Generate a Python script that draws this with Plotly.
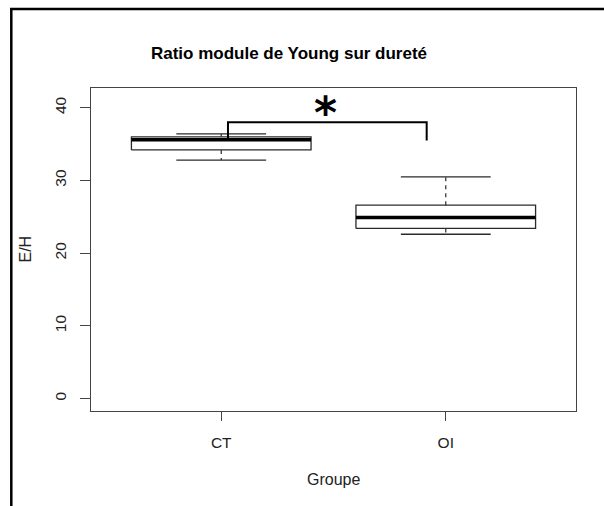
import plotly.graph_objects as go

# ---- data ----
groups = ["CT", "OI"]
lower_whisker = [32.8, 22.6]
q1 = [34.2, 23.4]
median = [35.6, 24.9]
q3 = [36.0, 26.6]
upper_whisker = [36.4, 30.5]

y_ticks = [0, 10, 20, 30, 40]

# significance bracket (data units)
sig_left_x = 1.03
sig_right_x = 1.915
sig_top_y = 38.0
sig_left_bottom = 35.5
sig_right_bottom = 35.5
sig_label = "*"
sig_label_x = 1.465

title_text = "Ratio module de Young sur dureté"
x_title = "Groupe"
y_title = "E/H"

FONT = "Liberation Sans, Arial, sans-serif"
HALF_BOX = 0.4
HALF_CAP = 0.2
LINE_COL = "#2a2a2a"

fig = go.Figure()

for i, g in enumerate(groups):
    xc = i + 1
    # box
    fig.add_trace(go.Scatter(
        x=[xc - HALF_BOX, xc + HALF_BOX, xc + HALF_BOX, xc - HALF_BOX, xc - HALF_BOX],
        y=[q1[i], q1[i], q3[i], q3[i], q1[i]],
        mode="lines", line=dict(color=LINE_COL, width=1.3),
        hoverinfo="skip", showlegend=False))
    # whiskers (dashed)
    fig.add_trace(go.Scatter(
        x=[xc, xc, None, xc, xc],
        y=[q3[i], upper_whisker[i], None, q1[i], lower_whisker[i]],
        mode="lines", line=dict(color=LINE_COL, width=1.2, dash="4px,4px"),
        hoverinfo="skip", showlegend=False))
    # caps
    fig.add_trace(go.Scatter(
        x=[xc - HALF_CAP, xc + HALF_CAP, None, xc - HALF_CAP, xc + HALF_CAP],
        y=[upper_whisker[i], upper_whisker[i], None, lower_whisker[i], lower_whisker[i]],
        mode="lines", line=dict(color=LINE_COL, width=1.3),
        hoverinfo="skip", showlegend=False))
    # median
    fig.add_trace(go.Scatter(
        x=[xc - HALF_BOX, xc + HALF_BOX],
        y=[median[i], median[i]],
        mode="lines", line=dict(color="black", width=3.5),
        hoverinfo="skip", showlegend=False))

# significance bracket
fig.add_trace(go.Scatter(
    x=[sig_left_x, sig_left_x, sig_right_x, sig_right_x],
    y=[sig_left_bottom, sig_top_y, sig_top_y, sig_right_bottom],
    mode="lines", line=dict(color="black", width=2),
    hoverinfo="skip", showlegend=False))

fig.add_annotation(
    x=sig_label_x, y=sig_top_y, xref="x", yref="y",
    text="<b>" + sig_label + "</b>", showarrow=False,
    font=dict(family="DejaVu Sans", size=44, color="black"),
    xanchor="center", yanchor="bottom", yshift=-18)

# outer frame decoration (top and left black border of the screenshot)
W, H = 604, 506
L, R, T, B = 91, 28, 88, 95
pw, ph = W - L - R, H - T - B
def px_x(px):
    return (px - L) / pw
def px_y(py):
    return (H - B - py) / ph

fig.add_shape(type="line", xref="paper", yref="paper",
              x0=px_x(10), x1=px_x(610), y0=px_y(9), y1=px_y(9),
              line=dict(color="black", width=2.5))
fig.add_shape(type="line", xref="paper", yref="paper",
              x0=px_x(11.3), x1=px_x(11.3), y0=px_y(8), y1=px_y(520),
              line=dict(color="black", width=2.5))

# axis titles
fig.add_annotation(x=0.5, y=px_y(479), xref="paper", yref="paper",
                   text=x_title, showarrow=False,
                   font=dict(family=FONT, size=16, color="#222"),
                   xanchor="center", yanchor="middle")
fig.add_annotation(x=px_x(25), y=0.5, xref="paper", yref="paper",
                   text=y_title, showarrow=False, textangle=-90,
                   font=dict(family=FONT, size=16, color="#222"),
                   xanchor="center", yanchor="middle")

fig.update_layout(
    width=W, height=H,
    margin=dict(l=L, r=R, t=T, b=B, pad=0),
    paper_bgcolor="white", plot_bgcolor="white",
    showlegend=False,
    title=dict(text="<b>" + title_text + "</b>", x=289 / W, xref="container",
               xanchor="center", y=1 - 53 / H, yref="container", yanchor="middle",
               font=dict(family=FONT, size=17, color="black")),
    xaxis=dict(range=[0.42, 2.58], tickvals=[1, 2], ticktext=groups,
               showgrid=False, zeroline=False, showline=True, mirror=True,
               linecolor="#444", linewidth=1.3,
               ticks="outside", ticklen=9, tickcolor="#444", tickwidth=1.2,
               ticklabelstandoff=8,
               tickfont=dict(family=FONT, size=15.5, color="#222")),
    yaxis=dict(range=[-1.71, 42.71], tickvals=y_ticks,
               showgrid=False, zeroline=False, showline=True, mirror=True,
               linecolor="#444", linewidth=1.3,
               ticks="outside", ticklen=10, tickcolor="#444", tickwidth=1.2,
               tickangle=-90, ticklabelstandoff=8,
               tickfont=dict(family=FONT, size=15.5, color="#222")),
)

fig.write_html(
    "out.html",
    config={"displayModeBar": False},
    post_script="document.body.style.margin='0px';document.body.style.overflow='hidden';",
)
